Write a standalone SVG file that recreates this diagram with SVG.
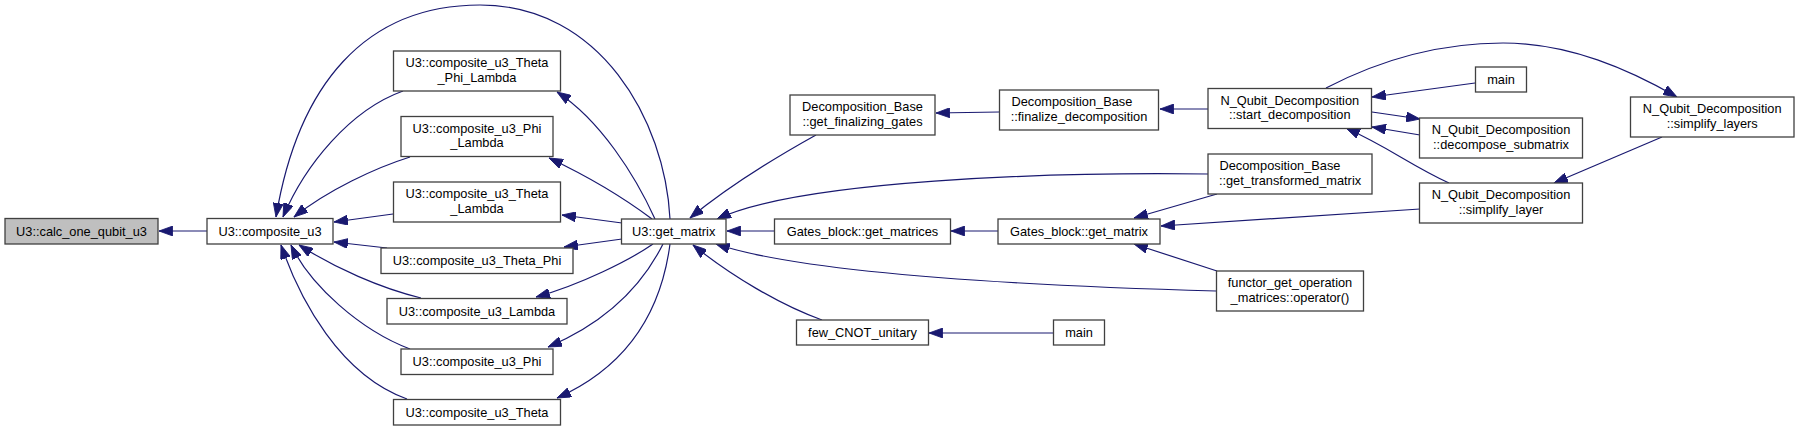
<svg xmlns="http://www.w3.org/2000/svg" width="1799" height="431" viewBox="0 0 1799 431">
<style>
.node rect{fill:#fff;stroke:#404040;stroke-width:1.3}
.node.hl rect{fill:#bfbfbf}
text{font-family:"Liberation Sans",Arial,Helvetica,sans-serif;font-size:12.8px;fill:#000}
.c{text-anchor:middle}
.s{text-anchor:start}
.edges path{fill:none;stroke:#191970;stroke-width:1.2;marker-end:url(#arr)}
</style>
<defs>
<marker id="arr" markerUnits="userSpaceOnUse" markerWidth="14" markerHeight="10" viewBox="0 0 13 9.4" refX="13" refY="4.7" orient="auto">
<path d="M0,0 L13,4.7 L0,9.4 z" fill="#191970" stroke="#191970" stroke-width="0.8"/>
</marker>
</defs>
<rect width="1799" height="431" fill="#fff"/>
<g class="edges">
<path d="M 207,231 L 159,231"/>
<path d="M 403,91 C 350,110 305,165 283,217"/>
<path d="M 410,157 C 375,168 328,190 294,217"/>
<path d="M 393,214 L 334,222"/>
<path d="M 387,248 L 334,242"/>
<path d="M 421,298 C 380,288 335,268 299,245"/>
<path d="M 410,349 C 360,330 310,285 291,245"/>
<path d="M 407,399 C 340,375 300,300 281,245"/>
<path d="M 670,219 C 665,120 600,5 480,5 C 365,5 298,85 276,217"/>
<path d="M 655,219 C 635,175 600,120 557,92"/>
<path d="M 652,219 C 620,195 585,175 549,158"/>
<path d="M 622,223 L 562,215"/>
<path d="M 622,239 L 564,247"/>
<path d="M 653,244 C 630,260 580,285 536,297"/>
<path d="M 663,244 C 640,290 600,325 548,347"/>
<path d="M 670,244 C 660,320 620,370 557,398"/>
<path d="M 816,135 C 780,155 730,185 690,218"/>
<path d="M 999,112 L 936,113"/>
<path d="M 1208,109 L 1160,109"/>
<path d="M 1208,174 C 1050,172 800,180 717,219"/>
<path d="M 774,231 L 727,231"/>
<path d="M 998,231 L 951,231"/>
<path d="M 1216,291 C 1000,285 800,272 716,244"/>
<path d="M 822,320 C 780,305 730,275 693,245"/>
<path d="M 1053,333 L 929,333"/>
<path d="M 1217,194 L 1134,218"/>
<path d="M 1420,209 L 1161,226"/>
<path d="M 1217,271 L 1134,244"/>
<path d="M 1475,83 L 1372,97"/>
<path d="M 1372,112 L 1420,119"/>
<path d="M 1420,135 L 1372,127"/>
<path d="M 1449,183 C 1410,165 1390,148 1346,128"/>
<path d="M 1326,88 C 1380,60 1440,43 1503,43 C 1570,43 1630,70 1677,97"/>
<path d="M 1662,137 L 1554,183"/>
</g>
<g id="n1" class="node hl"><rect x="5" y="218.5" width="153" height="25.5"/><text class="c" x="81.5" y="235.8">U3::calc_one_qubit_u3</text></g>
<g id="n2" class="node"><rect x="207" y="218.5" width="126" height="25.5"/><text class="c" x="270" y="235.8">U3::composite_u3</text></g>
<g id="n3" class="node"><rect x="393.5" y="51" width="167" height="40"/><text class="c" x="477" y="67">U3::composite_u3_Theta</text><text class="c" x="477" y="81.8">_Phi_Lambda</text></g>
<g id="n4" class="node"><rect x="401" y="116.5" width="152" height="40"/><text class="c" x="477" y="132.5">U3::composite_u3_Phi</text><text class="c" x="477" y="147.3">_Lambda</text></g>
<g id="n5" class="node"><rect x="393.5" y="182" width="167" height="40"/><text class="c" x="477" y="198">U3::composite_u3_Theta</text><text class="c" x="477" y="212.8">_Lambda</text></g>
<g id="n6" class="node"><rect x="381" y="248" width="192" height="25.5"/><text class="c" x="477" y="265.3">U3::composite_u3_Theta_Phi</text></g>
<g id="n7" class="node"><rect x="387" y="298.5" width="180" height="25.5"/><text class="c" x="477" y="315.8">U3::composite_u3_Lambda</text></g>
<g id="n8" class="node"><rect x="401" y="349" width="152" height="25.5"/><text class="c" x="477" y="366.3">U3::composite_u3_Phi</text></g>
<g id="n9" class="node"><rect x="393.5" y="399.5" width="167" height="25.5"/><text class="c" x="477" y="416.8">U3::composite_u3_Theta</text></g>
<g id="n10" class="node"><rect x="621.5" y="219" width="104.5" height="25"/><text class="c" x="673.7" y="236">U3::get_matrix</text></g>
<g id="n11" class="node"><rect x="790" y="95" width="145" height="40"/><text class="c" x="862.5" y="111">Decomposition_Base</text><text class="c" x="862.5" y="125.8">::get_finalizing_gates</text></g>
<g id="n12" class="node"><rect x="999.5" y="90" width="159" height="40"/><text class="s" x="1011.4" y="106">Decomposition_Base</text><text class="c" x="1079" y="120.8">::finalize_decomposition</text></g>
<g id="n13" class="node"><rect x="774.5" y="219" width="176" height="25"/><text class="c" x="862.5" y="236">Gates_block::get_matrices</text></g>
<g id="n14" class="node"><rect x="998" y="219" width="162" height="25"/><text class="c" x="1079" y="236">Gates_block::get_matrix</text></g>
<g id="n15" class="node"><rect x="796.5" y="320" width="132" height="25"/><text class="c" x="862.5" y="337">few_CNOT_unitary</text></g>
<g id="n16" class="node"><rect x="1053.5" y="320" width="51" height="25"/><text class="c" x="1079" y="337">main</text></g>
<g id="n17" class="node"><rect x="1208" y="88.5" width="163.5" height="40"/><text class="c" x="1289.8" y="104.5">N_Qubit_Decomposition</text><text class="c" x="1289.8" y="119.3">::start_decomposition</text></g>
<g id="n18" class="node"><rect x="1475.5" y="67" width="51" height="25"/><text class="c" x="1501" y="84">main</text></g>
<g id="n19" class="node"><rect x="1419.5" y="118" width="163" height="40"/><text class="c" x="1501" y="134">N_Qubit_Decomposition</text><text class="c" x="1501" y="148.8">::decompose_submatrix</text></g>
<g id="n20" class="node"><rect x="1630.5" y="97" width="163.5" height="40"/><text class="c" x="1712.2" y="113">N_Qubit_Decomposition</text><text class="c" x="1712.2" y="127.8">::simplify_layers</text></g>
<g id="n21" class="node"><rect x="1208" y="154" width="164" height="40"/><text class="s" x="1219.5" y="170">Decomposition_Base</text><text class="c" x="1290" y="184.8">::get_transformed_matrix</text></g>
<g id="n22" class="node"><rect x="1419.5" y="183" width="163" height="40"/><text class="c" x="1501" y="199">N_Qubit_Decomposition</text><text class="c" x="1501" y="213.8">::simplify_layer</text></g>
<g id="n23" class="node"><rect x="1216.5" y="271" width="147" height="40"/><text class="c" x="1290" y="287">functor_get_operation</text><text class="c" x="1290" y="301.8">_matrices::operator()</text></g>
</svg>
